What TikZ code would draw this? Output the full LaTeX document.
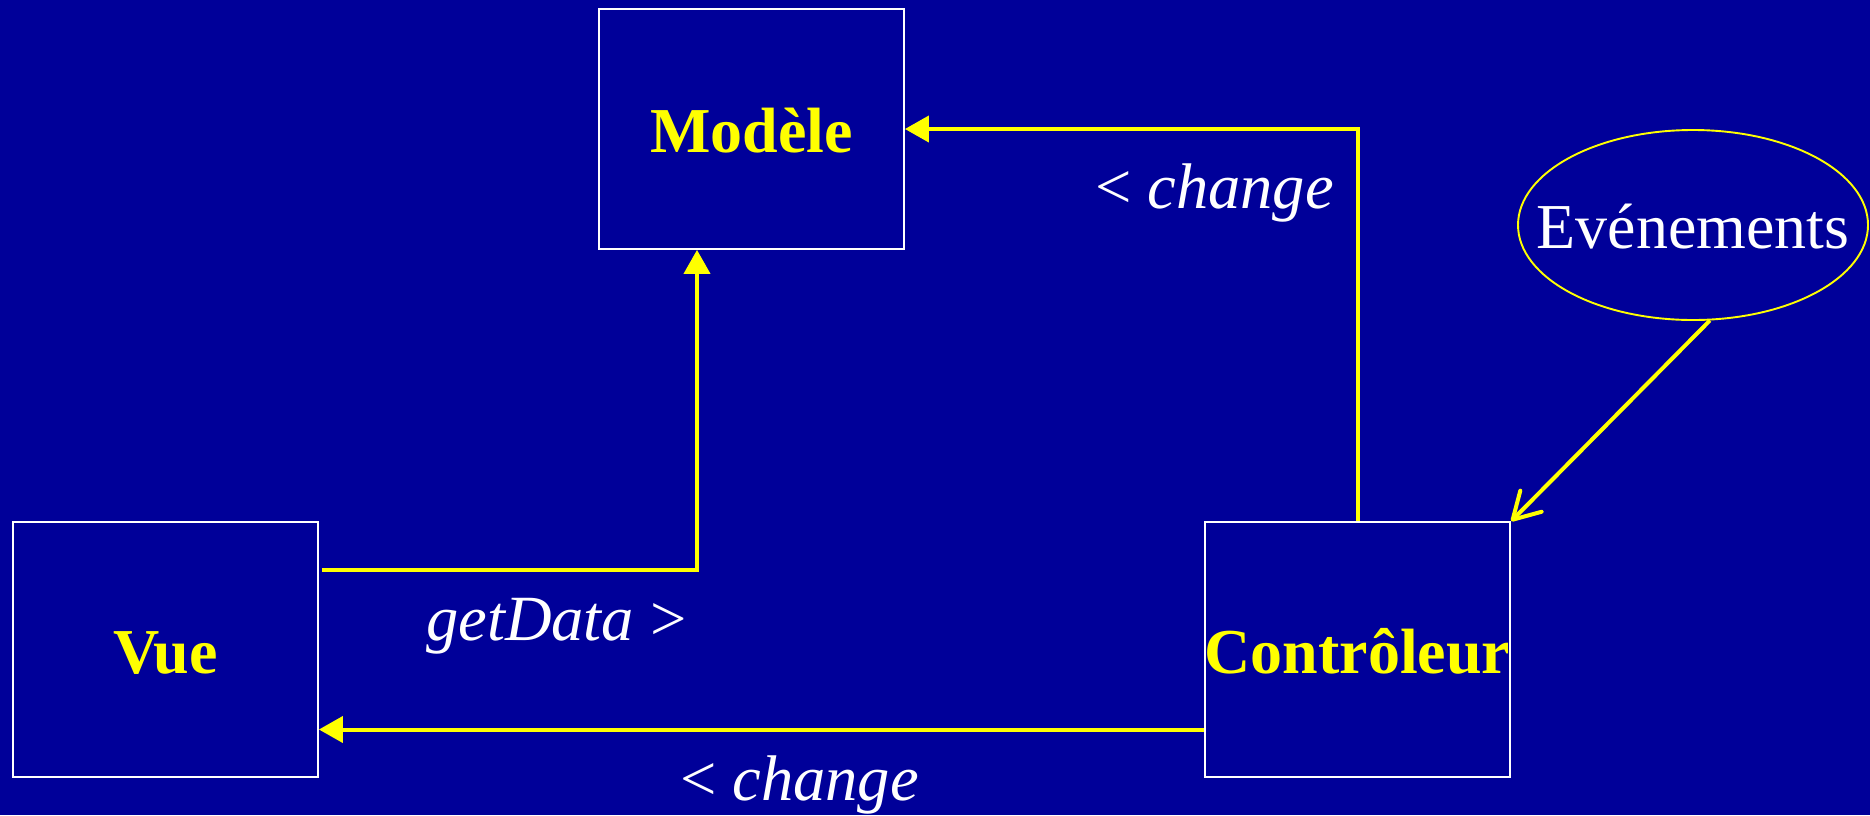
\documentclass[tikz,border=0pt]{standalone}
\usepackage{fontspec}
\setmainfont{Liberation Serif}
\usetikzlibrary{arrows.meta,shapes.geometric}
\definecolor{bg}{HTML}{000099}
\definecolor{yel}{HTML}{FFFF00}
\begin{document}
\begin{tikzpicture}[x=1pt,y=-1pt,
  box/.style={draw=white, line width=1.8pt, minimum width=305pt, inner sep=0pt,
    text height=47pt, text depth=0pt, font=\fontsize{64}{70}\selectfont\bfseries, text=yel},
  evtshape/.style={ellipse, draw=yel, line width=1.9pt, minimum width=350pt, minimum height=190pt,
    inner sep=0pt, text=white, text height=46pt, text depth=0pt, font=\fontsize{64}{70}\selectfont},
  conn/.style={draw=yel, line width=4pt, -{Triangle[length=24pt,width=26pt]}},
  barb/.style={draw=yel, line width=4pt, -{Straight Barb[length=26pt,width=30pt,round]}},
  lbl/.style={text=white, inner sep=0pt, font=\fontsize{64.5}{70}\selectfont}]
\useasboundingbox[fill=bg] (0,0) rectangle (1870,815);
\node[box, minimum height=240pt] (modele) at (751.5,129) {Modèle};
\node[box, minimum height=255pt] (vue) at (165.5,649.5) {Vue};
\node[box, minimum height=255pt] (ctrl) at (1357.5,649.5) {Contrôleur};
\node[evtshape] (evt) at (1693,225) {\makebox[0pt]{Evénements}};
\draw[conn] ([xshift=3pt,yshift=80pt]vue.east) -| ([xshift=-54.5pt]modele.south);
\draw[conn] (ctrl.north) |- (modele.east);
\draw[conn] ([yshift=-80pt]ctrl.west) -- ([yshift=-80pt]vue.east);
\draw[barb] (evt.-80) -- (ctrl.north east);
\node[lbl, anchor=base east] (lchg1) at (1334,208) {< \textit{change}};
\node[lbl, anchor=base west] (lget) at (426,640) {\textit{getData} >};
\node[lbl, anchor=base east] (lchg2) at (919,800) {< \textit{change}};
\end{tikzpicture}
\end{document}
